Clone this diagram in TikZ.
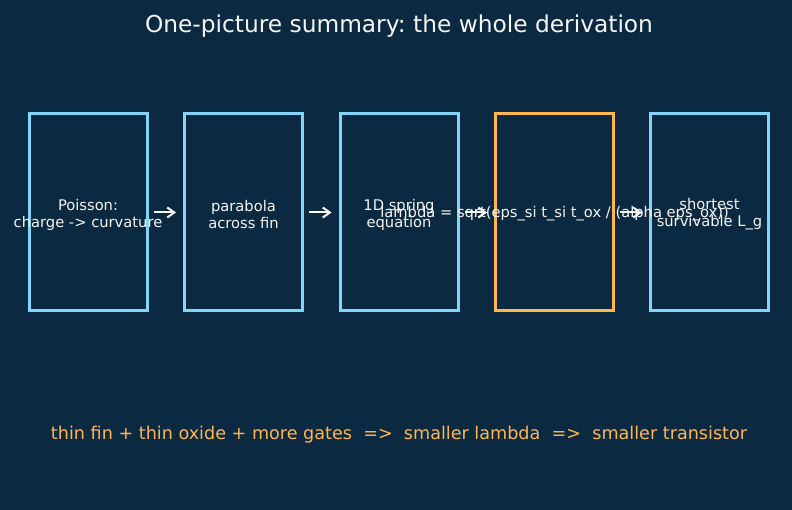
\documentclass[tikz,border=0pt]{standalone}
\usepackage{fontspec}
\setmainfont{DejaVu Sans}
\usetikzlibrary{arrows.meta}
\definecolor{bg}{HTML}{0B2A42}
\definecolor{bluebox}{HTML}{81D4FA}
\definecolor{orangebox}{HTML}{FFB74D}
\definecolor{titlecol}{HTML}{F5F5F5}
\frenchspacing
\tikzset{
  stagebox/.style={draw=bluebox, line width=3pt, fill=bg, minimum width=118pt, minimum height=197pt, inner sep=0pt},
  keybox/.style={stagebox, draw=orangebox},
  boxtext/.style={text=titlecol, font=\fontsize{14.7}{17}\selectfont, align=center, inner sep=0pt},
  flow/.style={draw=white, line width=2pt, -{Straight Barb[length=7pt,width=10pt,line width=2pt]}, shorten <=5pt, shorten >=7pt}
}
\begin{document}
\begin{tikzpicture}[x=1pt,y=-1pt]
\fill[bg] (0,0) rectangle (792,510);
\useasboundingbox (0,0) rectangle (792,510);
\node[text=titlecol, font=\fontsize{23.3}{27}\selectfont] (title) at (399,26) {One-picture summary: the whole derivation};
\node[stagebox] (b1) at (88,212.5) {};
\node[stagebox] (b2) at (243.5,212.5) {};
\node[stagebox] (b3) at (399,212.5) {};
\node[keybox] (b4) at (554.5,212.5) {};
\node[stagebox] (b5) at (709.5,212.5) {};
\node[boxtext] (t1) at ([yshift=-2pt]b1.center) {Poisson:\\charge -> curvature};
\node[boxtext] (t2) at ([yshift=-2pt]b2.center) {parabola\\across fin};
\node[boxtext] (t3) at ([yshift=-2pt]b3.center) {1D spring\\equation};
\node[boxtext] (t4) at ([yshift=-1.5pt]b4.center) {lambda = sqrt(eps\_si t\_si t\_ox / (alpha eps\_ox))};
\node[boxtext] (t5) at ([yshift=-2pt]b5.center) {shortest\\survivable L\_g};
\draw[flow] (b1.east) -- (b2.west);
\draw[flow] (b2.east) -- (b3.west);
\draw[flow] (b3.east) -- (b4.west);
\draw[flow] (b4.east) -- (b5.west);
\node[text=orangebox, font=\fontsize{17.6}{21}\selectfont] (summary) at (399,435) {thin fin + thin oxide + more gates\ \ =>\ \ smaller lambda\ \ =>\ \ smaller transistor};
\end{tikzpicture}
\end{document}
